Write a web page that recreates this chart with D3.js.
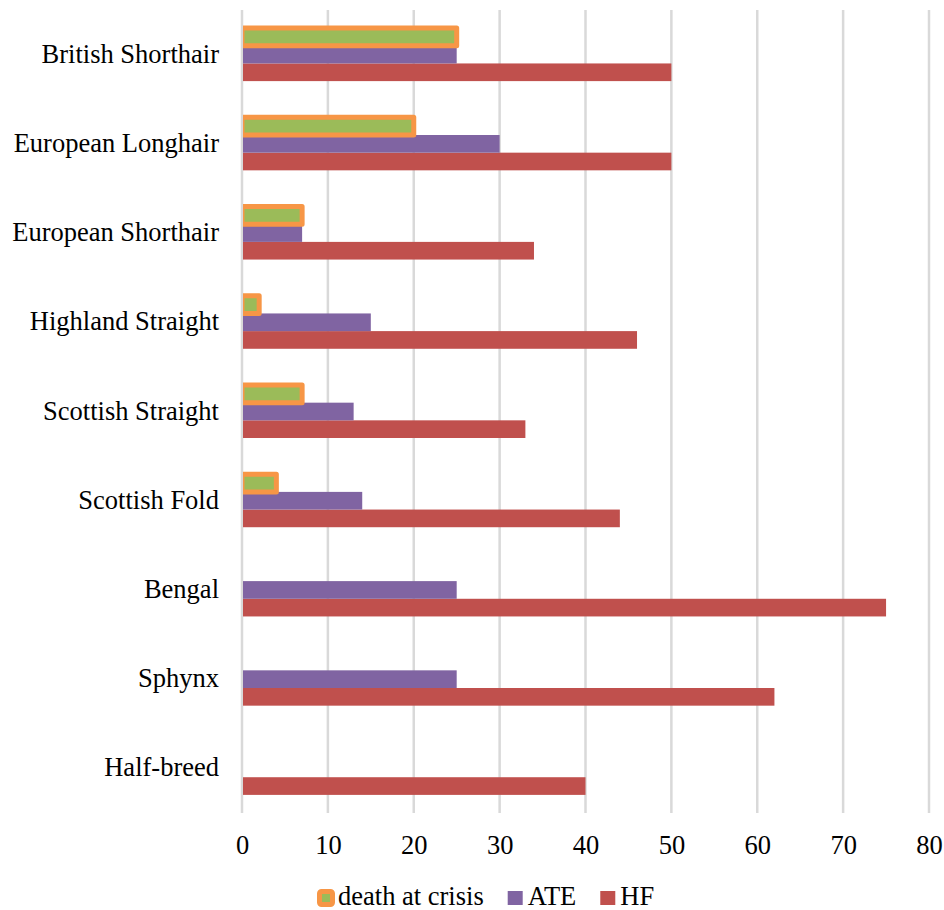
<!DOCTYPE html>
<html>
<head>
<meta charset="utf-8">
<script src="https://cdn.jsdelivr.net/npm/d3@7/dist/d3.min.js"></script>
<style>
  html, body { margin: 0; padding: 0; background: #fff; }
  svg { display: block; }
  svg text { font-family: 'Liberation Serif', 'Times New Roman', Times, 'DejaVu Serif', serif; fill: #000; }
</style>
</head>
<body>
<svg id="chart" width="944" height="910"></svg>
<script>
// Cat breeds, listed top to bottom
const breeds = [
  "British Shorthair", "European Longhair", "European Shorthair",
  "Highland Straight", "Scottish Straight", "Scottish Fold",
  "Bengal", "Sphynx", "Half-breed"
];
const seriesNames = ["death at crisis", "ATE", "HF"];
const deathAtCrisis = [25, 20, 7, 2, 7, 4, 0, 0, 0];
const ate           = [25, 30, 7, 15, 13, 14, 25, 25, 0];
const hf            = [50, 50, 34, 46, 33, 44, 75, 62, 40];
const xTicks = [0, 10, 20, 30, 40, 50, 60, 70, 80];

const FONT = "'Liberation Serif', 'Times New Roman', Times, 'DejaVu Serif', serif";

const colors = {
  "death at crisis": { fill: "#9BBB59", stroke: "#F79646" },
  "ATE": { fill: "#8064A2" },
  "HF": { fill: "#C0504D" }
};

const seriesValues = {
  "death at crisis": deathAtCrisis,
  "ATE": ate,
  "HF": hf
};

const svg = d3.select("#chart");
const plot = { left: 242, right: 929, top: 10, bottom: 813 };

const x = d3.scaleLinear().domain([0, 80]).range([plot.left, plot.right]);
const y = d3.scaleBand().domain(breeds).range([plot.top, plot.bottom]);
const sub = d3.scaleBand().domain(seriesNames)
  .range([y.bandwidth() / 2 - 26.5, y.bandwidth() / 2 + 26.5]);

// vertical gridlines
svg.append("g")
  .selectAll("line")
  .data(xTicks)
  .join("line")
  .attr("x1", d => x(d)).attr("x2", d => x(d))
  .attr("y1", plot.top).attr("y2", plot.bottom)
  .attr("stroke", "#d9d9d9")
  .attr("stroke-width", 2.5);

// x tick labels
const xAxis = d3.axisBottom(x).tickValues(xTicks).tickSize(0).tickPadding(0);
const gx = svg.append("g")
  .attr("transform", `translate(0, 835)`)
  .call(xAxis)
  .attr("font-family", FONT)
  .attr("font-size", 26.5);
gx.select(".domain").remove();
gx.selectAll("text")
  .attr("dy", null)
  .attr("y", 19)
  .attr("fill", "#000");

// category labels
const yAxis = d3.axisLeft(y).tickSize(0).tickPadding(0);
const gy = svg.append("g")
  .attr("transform", `translate(219, 0)`)
  .call(yAxis)
  .attr("font-family", FONT)
  .attr("font-size", 26.5);
gy.select(".domain").remove();
gy.selectAll("text")
  .attr("dy", null)
  .attr("y", 8)
  .attr("fill", "#000");

// clip so the thick outline of the first series stays inside the plot
svg.append("defs").append("clipPath").attr("id", "plotClip")
  .append("rect")
  .attr("x", plot.left + 1).attr("y", 0)
  .attr("width", plot.right - plot.left + 20).attr("height", plot.bottom);

const barsG = svg.append("g").attr("clip-path", "url(#plotClip)");

// draw HF, ATE first, then death at crisis on top
["HF", "ATE", "death at crisis"].forEach(name => {
  const vals = seriesValues[name];
  const data = breeds.map((b, i) => ({ breed: b, value: vals[i] })).filter(d => d.value > 0);
  const isDeath = name === "death at crisis";
  barsG.append("g")
    .selectAll("rect")
    .data(data)
    .join("rect")
    .attr("x", x(0))
    .attr("y", d => y(d.breed) + sub(name))
    .attr("width", d => x(d.value) - x(0))
    .attr("height", sub.bandwidth())
    .attr("fill", colors[name].fill)
    .attr("stroke", isDeath ? colors[name].stroke : null)
    .attr("stroke-width", isDeath ? 5 : null)
    .attr("stroke-linejoin", "round");
});

// legend
const legend = svg.append("g")
  .attr("transform", "translate(317, 905)")
  .attr("font-family", FONT)
  .attr("font-size", 26.5);
let cursor = 0;
seriesNames.forEach(name => {
  const item = legend.append("g").attr("transform", `translate(${cursor}, 0)`);
  if (name === "death at crisis") {
    item.append("rect")
      .attr("x", 2.5).attr("y", -13.5)
      .attr("width", 13).attr("height", 13)
      .attr("rx", 2)
      .attr("fill", colors[name].fill)
      .attr("stroke", colors[name].stroke)
      .attr("stroke-width", 5)
      .attr("stroke-linejoin", "round");
  } else {
    item.append("rect")
      .attr("x", 1).attr("y", -14)
      .attr("width", 15).attr("height", 14)
      .attr("fill", colors[name].fill);
  }
  const t = item.append("text")
    .attr("x", 21)
    .attr("y", 0)
    .text(name);
  cursor += 21 + t.node().getComputedTextLength() + 23;
});
</script>
</body>
</html>
